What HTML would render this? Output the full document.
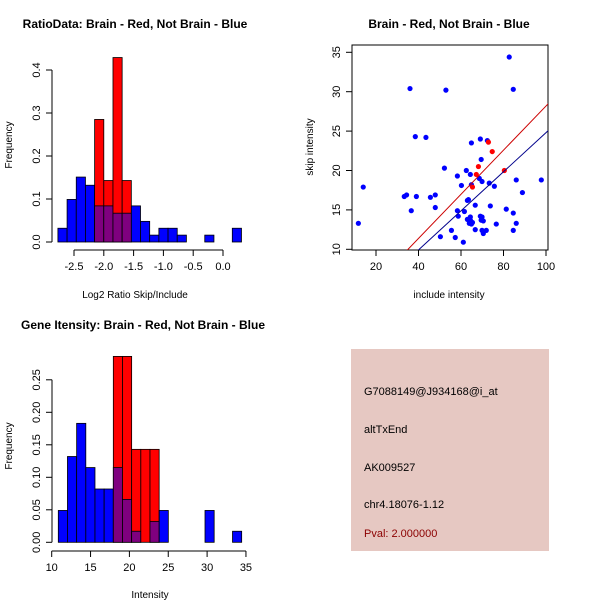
<!DOCTYPE html>
<html><head><meta charset="utf-8"><style>
body{margin:0;background:#fff}
svg{display:block;font-family:"Liberation Sans",Arial,sans-serif}
</style></head><body>
<svg id="c" width="600" height="600" viewBox="0 0 600 600">
<rect width="600" height="600" fill="#fff"/>
</svg>
<script>
// ---- Data ----
const ratioBlue=[0.032,0.099,0.151,0.132,0.084,0.084,0.067,0.067,0.084,0.048,0.016,0.032,0.032,0.016,0,0,0.016,0,0,0.032];
const ratioRed=[0,0,0,0,0.285,0.143,0.429,0.143,0,0,0,0,0,0,0,0,0,0,0,0];
const ratioBinStart=-2.77, ratioBinWidth=0.154;
const ratioXTicks=[-2.5,-2,-1.5,-1,-0.5,0];
const ratioXTickLabels=["-2.5","-2.0","-1.5","-1.0","-0.5","0.0"];
const ratioYTicks=[0,0.1,0.2,0.3,0.4];
const ratioYTickLabels=["0.0","0.1","0.2","0.3","0.4"];

const intBlue=[0.049,0.132,0.183,0.115,0.082,0.082,0.115,0.066,0.017,0,0.032,0.049,0,0,0,0,0.049,0,0,0.017];
const intRed=[0,0,0,0,0,0,0.286,0.286,0.143,0.143,0.143,0,0,0,0,0,0,0,0,0];
const intBinStart=10.85, intBinWidth=1.18;
const intXTicks=[10,15,20,25,30,35];
const intXTickLabels=["10","15","20","25","30","35"];
const intYTicks=[0,0.05,0.1,0.15,0.2,0.25];
const intYTickLabels=["0.00","0.05","0.10","0.15","0.20","0.25"];

const blueX=[11.7,14.0,36.0,52.9,82.7,84.6,38.5,43.5,33.3,34.4,39.0,36.6,45.6,47.9,47.9,52.2,50.3,55.5,57.3,61.1,58.3,60.2,58.3,58.7,61.6,62.5,64.4,64.9,64.9,63.0,63.5,66.7,63.0,64.4,63.9,64.9,65.4,64.4,66.7,69.1,72.4,69.5,68.6,69.9,69.1,69.9,69.5,70.5,69.9,70.5,71.9,73.3,75.7,73.8,76.6,81.3,84.6,84.6,86.0,86.0,88.9,97.8];
const blueY=[13.3,17.9,30.4,30.2,34.4,30.3,24.3,24.2,16.7,16.9,16.7,14.9,16.6,16.9,15.3,20.3,11.6,12.4,11.5,10.9,19.3,18.1,14.9,14.2,14.8,20.0,19.5,23.5,18.2,16.2,16.3,15.6,13.8,13.7,13.3,13.2,13.4,14.1,12.5,24.0,23.8,21.4,19.0,18.6,14.2,14.1,13.7,13.6,12.4,12.0,12.4,18.4,18.0,15.5,13.2,15.1,14.6,12.4,18.8,13.3,17.2,18.8];
const redX=[74.7,72.9,68.2,67.2,65.4,80.4];
const redY=[22.4,23.6,20.5,19.5,17.9,20.0];
const fitSlopes=[0.28,0.248];
const fitIntercepts=[0.18,0.0];
const fitColors=["#cc0000","#00008b"];
const scXTicks=[20,40,60,80,100];
const scYTicks=[10,15,20,25,30,35];

// ---- Drawing ----
const NS="http://www.w3.org/2000/svg";
const svg=document.getElementById('c');
function mk(tag,attrs,parent){const e=document.createElementNS(NS,tag);for(const k in attrs)e.setAttribute(k,attrs[k]);(parent||svg).appendChild(e);return e;}
function txt(s,x,y,opts,parent){const t=mk('text',Object.assign({x:x,y:y,'font-size':11,fill:'#000','text-anchor':'middle'},opts||{}),parent);t.textContent=s;return t;}

function hist(cfg){
  const g=mk('g',{});
  
  
  const sx=v=>cfg.x0px+(v-cfg.x0)*cfg.xs;
  const sy=v=>cfg.y0px-v*cfg.ys;
  cfg.blue.forEach((b,i)=>{
    const r=cfg.red[i];
    const xl=sx(cfg.binStart+i*cfg.binW), xr=sx(cfg.binStart+(i+1)*cfg.binW);
    if(r>0){const e=mk('rect',{x:xl,y:sy(r),width:xr-xl,height:sy(0)-sy(r),fill:'#ff0000',stroke:'#000','stroke-width':0.8},g);
      }
    if(b>0){const e=mk('rect',{x:xl,y:sy(b),width:xr-xl,height:sy(0)-sy(b),fill:r>0?'#7f007f':'#0000ff',stroke:'#000','stroke-width':0.8},g);
      }
  });
  // x axis
  const xa=mk('g',{},g);
  mk('line',{x1:sx(cfg.xt[0]),x2:sx(cfg.xt[cfg.xt.length-1]),y1:cfg.xAxisY,y2:cfg.xAxisY,stroke:'#000'},xa);
  cfg.xt.forEach((v,i)=>{mk('line',{x1:sx(v),x2:sx(v),y1:cfg.xAxisY,y2:cfg.xAxisY+6,stroke:'#000'},xa);
    txt(cfg.xl[i],sx(v),cfg.xAxisY+20,{},xa);});
  const ya=mk('g',{},g);
  mk('line',{x1:cfg.yAxisX,x2:cfg.yAxisX,y1:sy(cfg.yt[0]),y2:sy(cfg.yt[cfg.yt.length-1]),stroke:'#000'},ya);
  cfg.yt.forEach((v,i)=>{mk('line',{x1:cfg.yAxisX,x2:cfg.yAxisX-6,y1:sy(v),y2:sy(v),stroke:'#000'},ya);
    txt(cfg.yl[i],cfg.yAxisX-12,sy(v),{transform:`rotate(-90 ${cfg.yAxisX-12} ${sy(v)})`},ya);});
  const yt=txt('Frequency',12,cfg.yLabelY,{transform:`rotate(-90 12 ${cfg.yLabelY})`,'font-size':10},g);
  
  const xt=txt(cfg.xTitle,cfg.xTitleX,cfg.xTitleY,{'font-size':10},g);
  
  const tt=txt(cfg.title,cfg.titleX,cfg.titleY,{'font-size':12,'font-weight':'bold'},g);
  
}

hist({name:'ratio-histogram',blue:ratioBlue,red:ratioRed,binStart:ratioBinStart,binW:ratioBinWidth,
  x0:-2.5,x0px:74,xs:59.6,y0px:242,ys:430,xt:ratioXTicks,xl:ratioXTickLabels,yt:ratioYTicks,yl:ratioYTickLabels,
  xAxisY:250,yAxisX:52,yLabelY:145,xTitle:'Log2 Ratio Skip/Include',xTitleX:135,xTitleY:298,
  title:'RatioData: Brain - Red, Not Brain - Blue',titleX:135,titleY:28});
hist({name:'intensity-histogram',blue:intBlue,red:intRed,binStart:intBinStart,binW:intBinWidth,
  x0:10,x0px:51.7,xs:7.77,y0px:542.3,ys:650,xt:intXTicks,xl:intXTickLabels,yt:intYTicks,yl:intYTickLabels,
  xAxisY:551,yAxisX:52,yLabelY:446,xTitle:'Intensity',xTitleX:150,xTitleY:598,
  title:'Gene Itensity: Brain - Red, Not Brain - Blue',titleX:143,titleY:329});

// scatter
(function(){
  const g=mk('g',{});
  const L=352,R=548,T=45,B=250;
  const sx=v=>376+(v-20)*2.125;
  const sy=v=>249.3-(v-10)*7.88;
  mk('clipPath',{id:'clp'},g).appendChild(Object.assign(document.createElementNS(NS,'rect'),{}));
  const cr=g.querySelector('#clp rect');cr.setAttribute('x',L);cr.setAttribute('y',T);cr.setAttribute('width',R-L);cr.setAttribute('height',B-T);
  const frame=mk('rect',{x:L,y:T,width:R-L,height:B-T,fill:'none',stroke:'#000'},g);
  
  blueX.forEach((x,i)=>{const c=mk('circle',{cx:sx(x),cy:sy(blueY[i]),r:2.6,fill:'#0000ff'},g);
    });
  redX.forEach((x,i)=>{const c=mk('circle',{cx:sx(x),cy:sy(redY[i]),r:2.6,fill:'#ff0000'},g);
    });
  fitSlopes.forEach((m,i)=>{const b=fitIntercepts[i];
    const l=mk('line',{x1:sx(0),y1:sy(b),x2:sx(120),y2:sy(b+m*120),stroke:fitColors[i],'stroke-width':1,'clip-path':'url(#clp)'},g);
    });
  const xa=mk('g',{},g);
  scXTicks.forEach(v=>{mk('line',{x1:sx(v),x2:sx(v),y1:B,y2:B+6,stroke:'#000'},xa);txt(String(v),sx(v),B+20,{},xa);});
  const ya=mk('g',{},g);
  scYTicks.forEach(v=>{mk('line',{x1:L,x2:L-6,y1:sy(v),y2:sy(v),stroke:'#000'},ya);
    txt(String(v),L-12,sy(v),{transform:`rotate(-90 ${L-12} ${sy(v)})`},ya);});
  const xt=txt('include intensity',449,298,{'font-size':10},g);
  const yt=txt('skip intensity',313,147,{'font-size':10,transform:'rotate(-90 313 147)'},g);
  const tt=txt('Brain - Red, Not Brain - Blue',449,28,{'font-size':12,'font-weight':'bold'},g);
})();

// info box
(function(){
  const g=mk('g',{});
  mk('rect',{x:351,y:349,width:198,height:202,fill:'#e6c8c2'},g);
  const lines=[['G7088149@J934168@i_at',395,'#000','probe-id'],['altTxEnd',433,'#000','event-type'],['AK009527',471,'#000','accession'],['chr4.18076-1.12',508,'#000','location'],['Pval: 2.000000',537,'#8b0000','p-value']];
  lines.forEach(l=>{const t=txt(l[0],364,l[1],{'text-anchor':'start',fill:l[2],'font-size':11},g);
    });
})();
</script>
</body></html>
